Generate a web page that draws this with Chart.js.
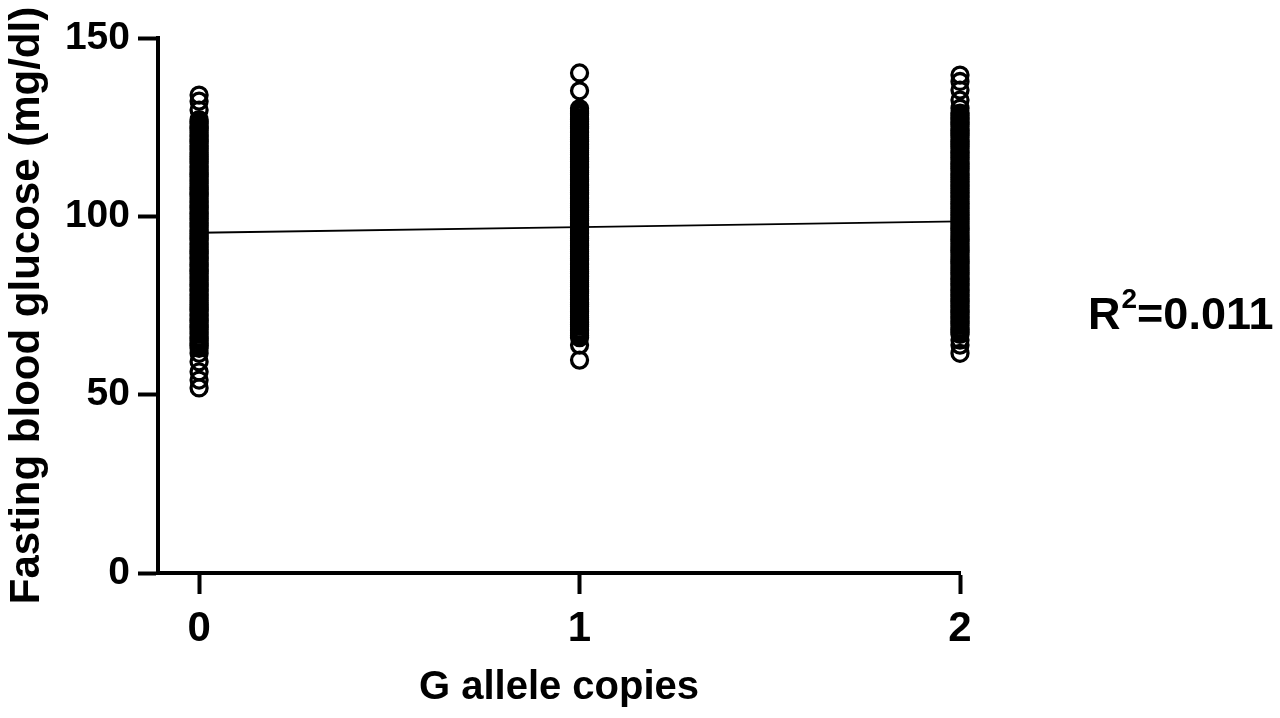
<!DOCTYPE html>
<html>
<head>
<meta charset="utf-8">
<script src="https://cdn.jsdelivr.net/npm/chart.js@4.4.0/dist/chart.umd.min.js"></script>
<style>
  html, body { margin: 0; padding: 0; background: #fff; }
  #wrap { width: 1280px; height: 718px; }
</style>
</head>
<body>
<div id="wrap"><canvas id="chart" width="1280" height="718"></canvas></div>
<script>
// x categories (number of G alleles)
const alleleCopies = [0, 1, 2];

// fasting glucose readings, one list per genotype group
const glucose0 = [51.9, 54.1, 56.4, 59.2, 61.6,
  63.0, 63.8, 64.3, 65.1, 65.7, 66.2, 67.0, 67.6, 68.3, 68.9, 69.5, 70.2, 70.8, 71.3, 72.1, 72.6,
  73.4, 73.9, 74.5, 75.2, 75.8, 76.4, 77.1, 77.7, 78.2, 79.0, 79.5, 80.3, 80.8, 81.4, 82.1, 82.7,
  83.2, 84.0, 84.6, 85.1, 85.9, 86.4, 87.0, 87.7, 88.3, 88.8, 89.6, 90.1, 90.7, 91.4, 92.0, 92.5,
  93.3, 93.8, 94.4, 95.1, 95.7, 96.2, 97.0, 97.5, 98.1, 98.8, 99.4, 100.0, 100.7, 101.2, 101.9,
  102.5, 103.0, 103.8, 104.3, 104.9, 105.6, 106.2, 106.7, 107.5, 108.0, 108.6, 109.3, 109.9,
  110.4, 111.2, 111.7, 112.3, 113.0, 113.6, 114.1, 114.9, 115.4, 116.0, 116.7, 117.3, 117.8,
  118.6, 119.1, 119.7, 120.4, 121.0, 121.5, 122.3, 122.8, 123.4, 124.1, 124.7, 125.2, 126.0,
  126.5, 127.1, 129.8, 132.3, 134.0];

const glucose1 = [59.7, 63.9, 66.0,
  66.6, 67.3, 67.9, 68.4, 69.2, 69.7, 70.3, 71.0, 71.6, 72.1, 72.9, 73.4, 74.0, 74.7, 75.3, 75.8,
  76.6, 77.1, 77.7, 78.4, 79.0, 79.5, 80.3, 80.8, 81.4, 82.1, 82.7, 83.2, 84.0, 84.5, 85.1, 85.8,
  86.4, 86.9, 87.7, 88.2, 88.8, 89.5, 90.1, 90.6, 91.4, 91.9, 92.5, 93.2, 93.8, 94.3, 95.1, 95.6,
  96.2, 96.9, 97.5, 98.0, 98.8, 99.3, 99.9, 100.6, 101.2, 101.7, 102.5, 103.0, 103.6, 104.3,
  104.9, 105.4, 106.2, 106.7, 107.3, 108.0, 108.6, 109.1, 109.9, 110.4, 111.0, 111.7, 112.3,
  112.8, 113.6, 114.1, 114.7, 115.4, 116.0, 116.5, 117.3, 117.8, 118.4, 119.1, 119.7, 120.2,
  121.0, 121.5, 122.1, 122.8, 123.4, 123.9, 124.7, 125.2, 125.8, 126.5, 127.1, 127.6, 128.4,
  128.9, 129.5, 130.2, 135.2, 140.2];

const glucose2 = [61.6, 63.9, 65.3,
  66.9, 67.5, 68.2, 68.7, 69.4, 70.0, 70.6, 71.3, 71.8, 72.5, 73.1, 73.7, 74.4, 74.9, 75.6, 76.2,
  76.8, 77.5, 78.0, 78.7, 79.3, 79.9, 80.6, 81.1, 81.8, 82.4, 83.0, 83.7, 84.2, 84.9, 85.5, 86.1,
  86.8, 87.3, 88.0, 88.6, 89.2, 89.9, 90.4, 91.1, 91.7, 92.3, 93.0, 93.5, 94.2, 94.8, 95.4, 96.1,
  96.6, 97.3, 97.9, 98.5, 99.2, 99.7, 100.4, 101.0, 101.6, 102.3, 102.8, 103.5, 104.1, 104.7,
  105.4, 105.9, 106.6, 107.2, 107.8, 108.5, 109.0, 109.7, 110.3, 110.9, 111.6, 112.1, 112.8,
  113.4, 114.0, 114.7, 115.2, 115.9, 116.5, 117.1, 117.8, 118.3, 119.0, 119.6, 120.2, 120.9,
  121.4, 122.1, 122.7, 123.3, 124.0, 124.5, 125.2, 125.8, 126.4, 127.1, 127.6, 128.3, 128.9,
  130.3, 132.6, 135.4, 137.8, 139.6];

// regression line value at 0, 1 and 2 copies
const fitLine = [95.4, 97.0, 98.6];
const yTicks = [0, 50, 100, 150];
const rSquared = '0.011';

const groups = [glucose0, glucose1, glucose2];

const scatterData = [];
groups.forEach((vals, i) => {
  vals.forEach(v => scatterData.push({ x: alleleCopies[i], y: v }));
});

const lineData = alleleCopies.map((x, i) => ({ x: x, y: fitLine[i] }));

const boldFont = 'Liberation Sans, Arial, sans-serif';

// draws the R² note to the right of the plot
const rSquaredNote = {
  id: 'rSquaredNote',
  afterDraw(chart) {
    const ctx = chart.ctx;
    ctx.save();
    ctx.fillStyle = '#000';
    ctx.textBaseline = 'alphabetic';
    ctx.textAlign = 'left';
    let x = 1088;
    const y = 329;
    ctx.font = 'bold 45px ' + boldFont;
    ctx.fillText('R', x, y);
    x += ctx.measureText('R').width + 1;
    ctx.font = 'bold 28px ' + boldFont;
    ctx.fillText('2', x, y - 21);
    x += ctx.measureText('2').width;
    ctx.font = 'bold 45px ' + boldFont;
    ctx.fillText('=' + rSquared, x, y);
    ctx.restore();
  }
};

const ctx = document.getElementById('chart').getContext('2d');
new Chart(ctx, {
  type: 'scatter',
  data: {
    datasets: [
      {
        label: 'Fasting blood glucose',
        data: scatterData,
        clip: false,
        pointStyle: 'circle',
        pointRadius: 8,
        pointBorderWidth: 3.3,
        pointBorderColor: '#000',
        pointBackgroundColor: 'rgba(0,0,0,0)',
        order: 2,
      },
      {
        type: 'line',
        label: 'Fit',
        data: lineData,
        clip: false,
        borderColor: '#000',
        borderWidth: 1.8,
        pointRadius: 0,
        fill: false,
        order: 1,
      },
    ],
  },
  options: {
    responsive: false,
    devicePixelRatio: 1,
    animation: false,
    layout: {
      padding: { top: 38, right: 320, left: 0, bottom: 0 },
    },
    plugins: {
      legend: { display: false },
      tooltip: { enabled: false },
    },
    scales: {
      x: {
        type: 'linear',
        min: -0.108,
        max: 2,
        afterBuildTicks: axis => {
          axis.ticks = alleleCopies.map(v => ({ value: v }));
        },
        afterFit: scale => { scale.height = 145; },
        ticks: {
          color: '#000',
          padding: 10,
          font: { family: boldFont, weight: 'bold', size: 42 },
        },
        grid: {
          drawOnChartArea: false,
          drawTicks: true,
          tickLength: 21,
          tickWidth: 4,
          tickColor: '#000',
        },
        border: { display: true, width: 4, color: '#000' },
        title: {
          display: true,
          text: 'G allele copies',
          color: '#000',
          font: { family: boldFont, weight: 'bold', size: 40 },
          padding: { top: 0, bottom: 6 },
        },
      },
      y: {
        min: 0,
        max: 150,
        afterBuildTicks: axis => {
          axis.ticks = yTicks.map(v => ({ value: v }));
        },
        afterFit: scale => { scale.width = 158; },
        ticks: {
          color: '#000',
          padding: 8,
          font: { family: boldFont, weight: 'bold', size: 39 },
        },
        grid: {
          drawOnChartArea: false,
          drawTicks: true,
          tickLength: 20,
          tickWidth: 4,
          tickColor: '#000',
        },
        border: { display: true, width: 4, color: '#000' },
        title: {
          display: true,
          text: 'Fasting blood glucose (mg/dl)',
          color: '#000',
          font: { family: boldFont, weight: 'bold', size: 42 },
          padding: { top: 2, bottom: 0 },
        },
      },
    },
  },
  plugins: [rSquaredNote],
});
</script>
</body>
</html>
